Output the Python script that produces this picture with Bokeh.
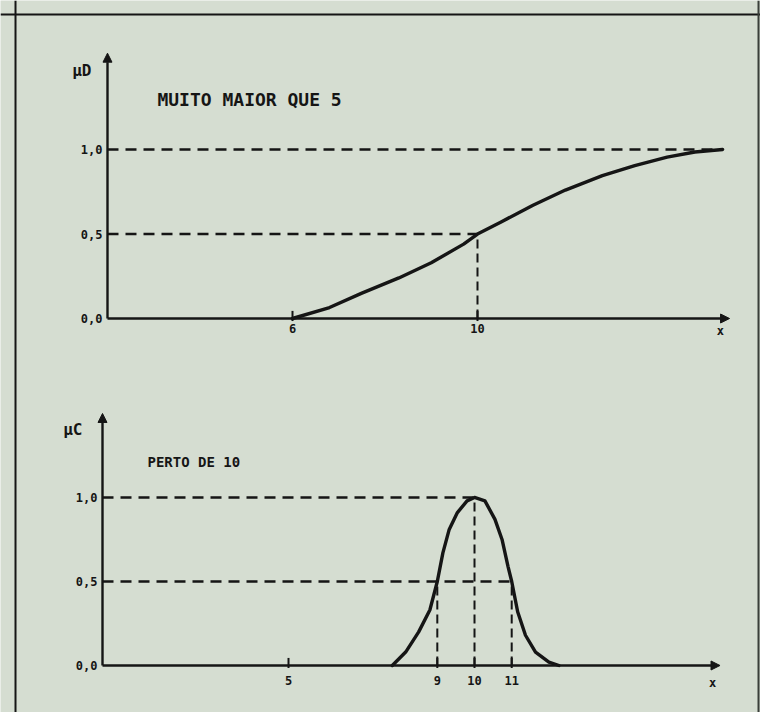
from bokeh.plotting import figure
from bokeh.models import Range1d, Arrow, NormalHead, Span, ColumnDataSource
from bokeh.core.properties import value
from bokeh.embed import file_html
from bokeh.resources import INLINE

# ---------------- data ----------------
# Top chart: "MUITO MAIOR QUE 5"
top_x = [6.0, 6.8, 7.5, 8.3, 9.0, 9.7, 10.0, 10.5, 11.2, 11.9, 12.7, 13.4, 14.1, 14.7, 15.3]
top_y = [0.0, 0.065, 0.15, 0.24, 0.33, 0.44, 0.5, 0.57, 0.67, 0.76, 0.845, 0.905, 0.955, 0.985, 1.0]
top_xticks = [6, 10]
top_xtick_labels = ["6", "10"]
top_yticks = [0.0, 0.5, 1.0]
top_ytick_labels = ["0,0", "0,5", "1,0"]
top_title = "MUITO MAIOR QUE 5"
top_ylabel = "\u03bcD"
top_xaxis = [2.0, 15.45]
top_yaxis_top = 1.57

# Bottom chart: "PERTO DE 10"
bot_x = [7.79, 8.15, 8.5, 8.8, 9.0, 9.15, 9.32, 9.54, 9.8, 10.0, 10.28, 10.55, 10.74, 10.9,
         11.0, 11.16, 11.37, 11.64, 12.0, 12.27]
bot_y = [0.0, 0.08, 0.2, 0.33, 0.5, 0.67, 0.81, 0.91, 0.98, 1.0, 0.98, 0.87, 0.75, 0.59,
         0.5, 0.32, 0.18, 0.08, 0.02, 0.0]
bot_xticks = [5, 9, 10, 11]
bot_xtick_labels = ["5", "9", "10", "11"]
bot_yticks = [0.0, 0.5, 1.0]
bot_ytick_labels = ["0,0", "0,5", "1,0"]
bot_title = "PERTO DE 10"
bot_ylabel = "\u03bcC"
bot_xaxis = [0.0, 16.6]
bot_yaxis_top = 1.5

# ---------------- style ----------------
BG = "#d5ddd1"
INK = "#151515"
MONO = value("DejaVu Sans Mono")

p = figure(width=760, height=712, output_backend="svg", toolbar_location=None,
           x_range=Range1d(-0.3135, 16.119), y_range=Range1d(-2.3314, 1.8817),
           x_axis_location=None, y_axis_location=None,
           min_border=0, min_border_left=0, min_border_right=0,
           min_border_top=0, min_border_bottom=0)
p.extra_x_ranges = {"bx": Range1d(-2.742, 17.688)}
p.extra_y_ranges = {"by": Range1d(-0.2798, 3.958)}
p.grid.visible = False
p.outline_line_color = None
p.background_fill_color = BG
p.border_fill_color = BG

# page border of the boxed figure
p.add_layout(Span(location=0.011, dimension="height", line_color=INK, line_width=2))
p.add_layout(Span(location=1.799, dimension="width", line_color=INK, line_width=2))
p.add_layout(Span(location=16.076, dimension="height", line_color="#3a3f3a", line_width=2))


def draw_chart(xs, ys, xticks, xlabels, yticks, ylabels, xaxis, ytop, title, title_size,
               title_pos, ylab, ylab_off, hlines, vlines, xlab_off, xname="default", yname="default"):
    kw = {}
    if xname != "default":
        kw = dict(x_range_name=xname, y_range_name=yname)
    x0, x1 = xaxis
    # axes with arrowheads
    p.add_layout(Arrow(end=NormalHead(size=9, fill_color=INK, line_color=INK, line_width=1),
                       x_start=x0, y_start=0, x_end=x1, y_end=0,
                       line_color=INK, line_width=2.4, **kw))
    p.add_layout(Arrow(end=NormalHead(size=9, fill_color=INK, line_color=INK, line_width=1),
                       x_start=x0, y_start=0, x_end=x0, y_end=ytop,
                       line_color=INK, line_width=2.4, **kw))
    # small tick marks on the x axis
    p.segment(x0=xticks, y0=[-0.015] * len(xticks), x1=xticks, y1=[0.045] * len(xticks),
              line_color=INK, line_width=2, **kw)
    # dashed guide lines
    hx0 = [x0 for _ in hlines]
    hx1 = [h[0] for h in hlines]
    hy = [h[1] for h in hlines]
    p.segment(x0=hx0, y0=hy, x1=hx1, y1=hy, line_color=INK, line_width=2.4,
              line_dash="11 7", **kw)
    vx = [v[0] for v in vlines]
    vy = [v[1] for v in vlines]
    p.segment(x0=vx, y0=[0] * len(vx), x1=vx, y1=vy, line_color=INK, line_width=2,
              line_dash="9 5", **kw)
    # curve
    p.line(xs, ys, line_color=INK, line_width=3.4, line_join="round", line_cap="round", **kw)
    # x ticks
    src = ColumnDataSource(dict(x=xticks, y=[0] * len(xticks), t=xlabels))
    p.text(x="x", y="y", text="t", source=src, text_font=MONO, text_font_style="bold",
           text_font_size="12px", text_align="center", text_baseline="top",
           y_offset=xlab_off, text_color=INK, **kw)
    p.text(x=[x1 - 0.2], y=[0], text=["x"], text_font=MONO, text_font_style="bold",
           text_font_size="12px", text_align="center", text_baseline="top",
           y_offset=xlab_off, text_color=INK, **kw)
    # y ticks
    ysrc = ColumnDataSource(dict(x=[x0] * len(yticks), y=yticks, t=ylabels))
    p.text(x="x", y="y", text="t", source=ysrc, text_font=MONO, text_font_style="bold",
           text_font_size="12px", text_align="right", text_baseline="middle",
           x_offset=-5, text_color=INK, **kw)
    # axis label
    p.text(x=[x0], y=[ytop], text=[ylab], text_font=MONO, text_font_style="bold",
           text_font_size="16px", text_align="right", text_baseline="middle",
           x_offset=ylab_off[0], y_offset=ylab_off[1], text_color=INK, **kw)
    # title
    p.text(x=[title_pos[0]], y=[title_pos[1]], text=[title], text_font=MONO,
           text_font_style="bold", text_font_size=title_size, text_align="left",
           text_baseline="middle", text_color=INK, **kw)


draw_chart(top_x, top_y, top_xticks, top_xtick_labels, top_yticks, top_ytick_labels,
           top_xaxis, top_yaxis_top, top_title, "18px", (3.08, 1.296), top_ylabel, (-16, 17),
           hlines=[(15.3, 1.0), (10.0, 0.5)], vlines=[(10.0, 0.5)], xlab_off=5)

draw_chart(bot_x, bot_y, bot_xticks, bot_xtick_labels, bot_yticks, bot_ytick_labels,
           bot_xaxis, bot_yaxis_top, bot_title, "14px", (1.21, 1.214), bot_ylabel, (-20, 16),
           hlines=[(10.0, 1.0), (11.0, 0.5)], vlines=[(9.0, 0.5), (10.0, 1.0), (11.0, 0.5)],
           xlab_off=11, xname="bx", yname="by")

open("out.html", "w").write(file_html(p, INLINE))
